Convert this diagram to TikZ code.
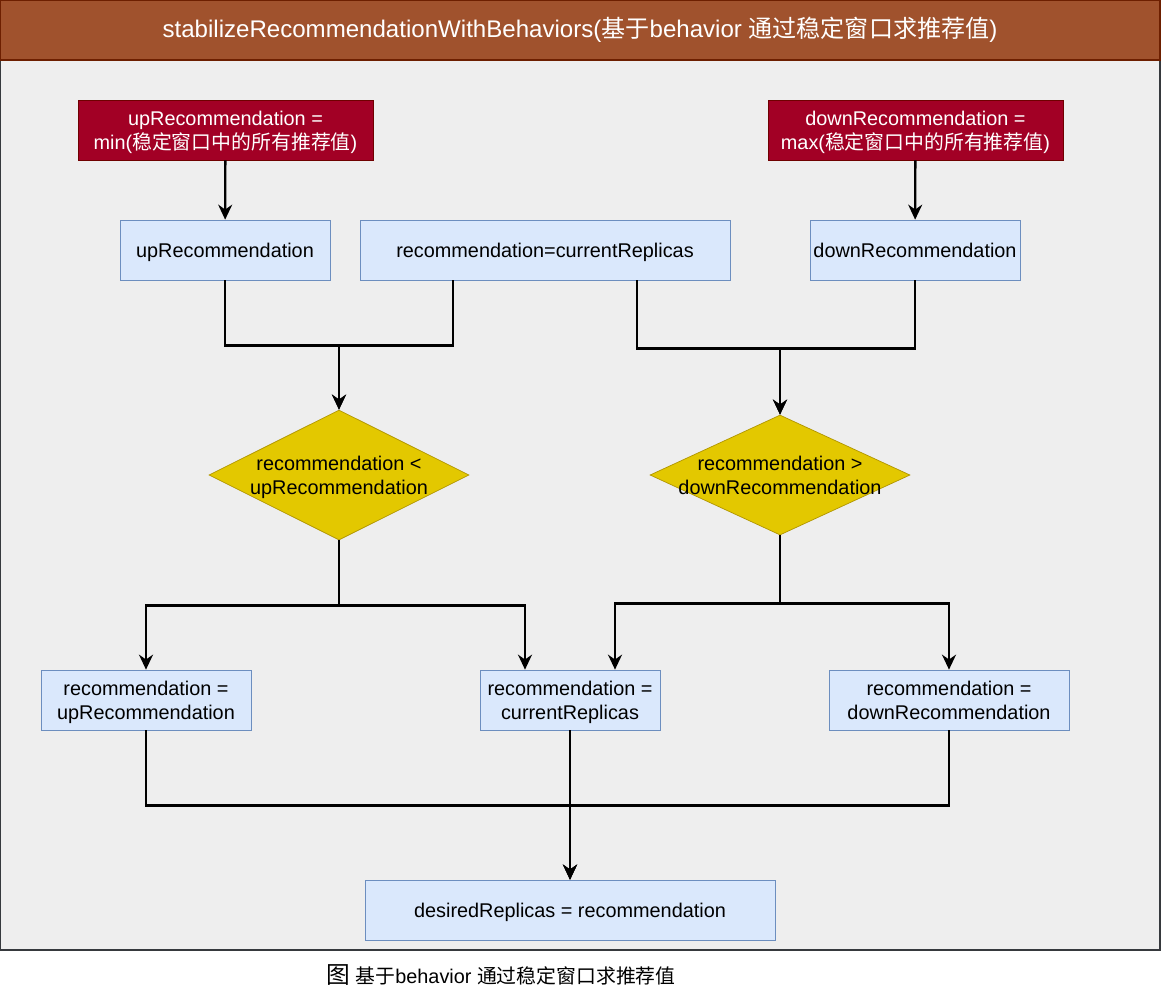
\documentclass[tikz,border=0pt]{standalone}
\usepackage{fontspec}
\setmainfont{Liberation Sans}
\newfontfamily\cjk{Noto Sans CJK SC}
\usetikzlibrary{shapes.geometric,arrows.meta}

\definecolor{hdrfill}{HTML}{A0522D}
\definecolor{hdrline}{HTML}{6D1F00}
\definecolor{bodyfill}{HTML}{EEEEEE}
\definecolor{bodyline}{HTML}{36393D}
\definecolor{redfill}{HTML}{A20025}
\definecolor{redline}{HTML}{6F0000}
\definecolor{bluefill}{HTML}{DAE8FC}
\definecolor{blueline}{HTML}{6C8EBF}
\definecolor{yelfill}{HTML}{E3C800}
\definecolor{yelline}{HTML}{B09500}

\begin{document}
\begin{tikzpicture}[x=0.2mm,y=-0.2mm,
  every node/.style={font=\fontsize{11.3}{13.6}\selectfont},
  bluebox/.style={draw=blueline,fill=bluefill,minimum height=1.2cm,align=center,inner sep=1pt,text depth=0pt},
  redbox/.style={draw=redline,fill=redfill,text=white,minimum height=1.2cm,minimum width=5.9cm,align=center,inner sep=1pt,text depth=0pt},
  decide/.style={diamond,draw=yelline,fill=yelfill,minimum width=5.2cm,inner sep=0pt},
  flow/.style={line width=1.3pt,-{Stealth[length=3mm,width=2.8mm]}}]
\useasboundingbox (0,0) rectangle (1161,991);

% Container
\filldraw[fill=bodyfill,draw=bodyline,line width=0.6pt] (0,0) rectangle (1160,950);
\filldraw[fill=hdrfill,draw=hdrline,line width=0.6pt] (0,0) rectangle (1160,60);
\node[text=white,font=\fontsize{13.7}{16}\selectfont] (title) at (580,30)
  {stabilizeRecommendationWithBehaviors({\cjk 基于}behavior {\cjk 通过稳定窗口求推荐值})};

% Place nodes
\node[redbox] (upmin) at (225.5,130) {upRecommendation =\\min({\cjk 稳定窗口中的所有推荐值})};
\node[redbox] (downmax) at (915.5,130) {downRecommendation =\\max({\cjk 稳定窗口中的所有推荐值})};

\node[bluebox,minimum width=4.2cm] (uprec) at (225,250) {upRecommendation};
\node[bluebox,minimum width=7.4cm] (reccur) at (545,250) {recommendation=currentReplicas};
\node[bluebox,minimum width=4.2cm] (downrec) at (915,250) {downRecommendation};

\node[decide,minimum height=2.6cm,
  label={[align=center,text depth=0pt]center:recommendation <\\upRecommendation}] (dup) at (339,475) {};
\node[decide,minimum height=2.4cm,
  label={[align=center,text depth=0pt]center:recommendation >\\downRecommendation}] (ddown) at (780,475) {};

\node[bluebox,minimum width=4.2cm] (lbox) at (146,700) {recommendation =\\upRecommendation};
\node[bluebox,minimum width=3.6cm] (mbox) at (570,700) {recommendation =\\currentReplicas};
\node[bluebox,minimum width=4.8cm] (rbox) at (949,700) {recommendation =\\downRecommendation};

\node[bluebox,minimum width=8.2cm] (desired) at (570,910) {desiredReplicas = recommendation};

\node (caption) at (501,975) {{\cjk\fontsize{13.5}{16}\selectfont 图} {\cjk 基于}behavior {\cjk 通过稳定窗口求推荐值}};

% Connectors
\draw[flow] (upmin) -- (uprec);
\draw[flow] (downmax) -- (downrec);

\draw[flow] (uprec.south) -- ++(0,65) -| (dup.north);
\draw[flow] ([xshift=-1.84cm]reccur.south) -- ++(0,65) -| (dup.north);
\draw[flow] ([xshift=1.84cm]reccur.south) -- ++(0,68) -| (ddown.north);
\draw[flow] (downrec.south) -- ++(0,68) -| (ddown.north);

\draw[flow] (dup.south) -- ++(0,65) -| (lbox.north);
\draw[flow] (dup.south) -- ++(0,65) -| ([xshift=-0.9cm]mbox.north);
\draw[flow] (ddown.south) -- ++(0,68) -| ([xshift=0.9cm]mbox.north);
\draw[flow] (ddown.south) -- ++(0,68) -| (rbox.north);

\draw[flow] (lbox.south) -- ++(0,75) -| (desired.north);
\draw[flow] (rbox.south) -- ++(0,75) -| (desired.north);
\draw[flow] (mbox) -- (desired);

\end{tikzpicture}
\end{document}
